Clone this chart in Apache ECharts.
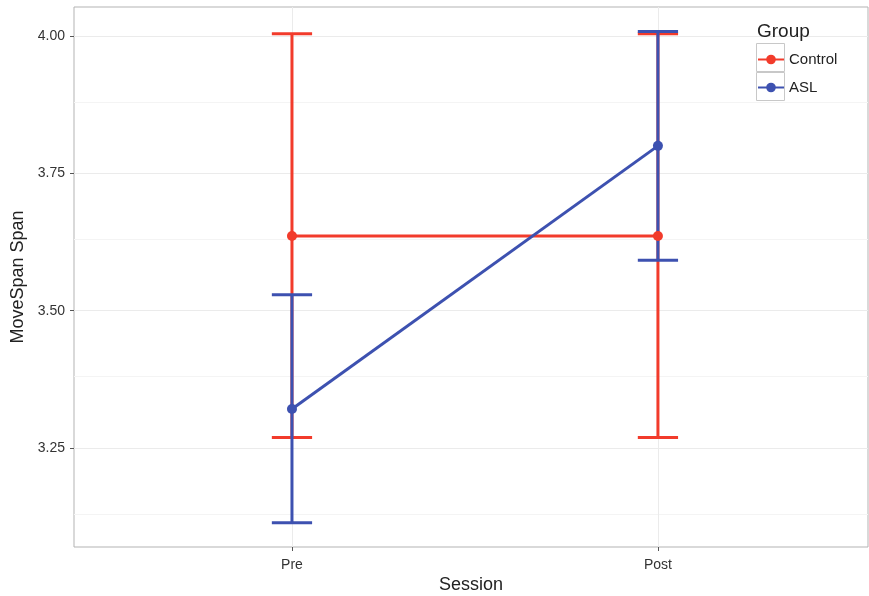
<!DOCTYPE html>
<html><head><meta charset="utf-8">
<script src="https://cdn.jsdelivr.net/npm/echarts@6/dist/echarts.min.js"></script>
<style>html,body{margin:0;padding:0;background:#fff}#c{width:869px;height:596px}</style>
</head><body><div id="c"></div>
<script>
const categories = ['Pre', 'Post'];
const groups = ['Control', 'ASL'];
const controlMean = [3.636, 3.636];
const controlLow = [3.269, 3.269];
const controlHigh = [4.004, 4.004];
const aslMean = [3.321, 3.800];
const aslLow = [3.114, 3.592];
const aslHigh = [3.529, 4.008];
const yTicks = [3.25, 3.50, 3.75, 4.00];
const yMinor = [3.125, 3.375, 3.625, 3.875];
const colors = ['#f23b2b', '#3d51b0'];

const chart = echarts.init(document.getElementById('c'), null, {renderer: 'canvas'});
const FONT = '"Liberation Sans", Arial, sans-serif';

function ebData(lo, hi) {
  return categories.map((c, i) => [i + 1, lo[i], hi[i]]);
}
function lineData(m) {
  return categories.map((c, i) => [i + 1, m[i]]);
}
function renderEB(params, api) {
  const x = api.value(0);
  const lo = api.coord([x, api.value(1)]);
  const hi = api.coord([x, api.value(2)]);
  const half = api.size([0.055, 0])[0];
  const st = {stroke: api.visual('color'), lineWidth: 3, fill: null};
  return {type: 'group', children: [
    {type: 'line', shape: {x1: lo[0], y1: lo[1], x2: hi[0], y2: hi[1]}, style: st},
    {type: 'line', shape: {x1: lo[0] - half, y1: lo[1], x2: lo[0] + half, y2: lo[1]}, style: st},
    {type: 'line', shape: {x1: hi[0] - half, y1: hi[1], x2: hi[0] + half, y2: hi[1]}, style: st}
  ]};
}

const gridMarks = [];
yMinor.forEach(v => gridMarks.push({yAxis: v, lineStyle: {color: '#f4f4f4', width: 1, type: 'solid'}}));
yTicks.forEach(v => gridMarks.push({yAxis: v, lineStyle: {color: '#ebebeb', width: 1, type: 'solid'}}));
categories.forEach((c, i) => gridMarks.push({xAxis: i + 1, lineStyle: {color: '#ebebeb', width: 1, type: 'solid'}}));

chart.setOption({
  animation: false,
  backgroundColor: '#fff',
  title: {text: 'Group', left: 752, top: 17, textStyle: {fontFamily: FONT, fontSize: 19, fontWeight: 'normal', color: '#222'}},
  grid: {left: 74, right: 1, top: 7, bottom: 49, show: true, borderColor: '#b3b3b3', borderWidth: 1,
    containLabel: false, outerBoundsMode: 'none'},
  xAxis: {
    type: 'value', min: 0.4044, max: 2.574,
    name: 'Session', nameLocation: 'middle', nameGap: 29, nameMoveOverlap: false,
    nameTextStyle: {fontFamily: FONT, fontSize: 18, color: '#222'},
    axisLine: {show: false},
    axisTick: {show: true, length: 4, lineStyle: {color: '#555'}, customValues: [1, 2]},
    axisLabel: {customValues: [1, 2], formatter: v => categories[Math.round(v) - 1] || '',
      fontFamily: FONT, fontSize: 14, color: '#333', margin: 11},
    splitLine: {show: false}
  },
  yAxis: {
    type: 'value', min: 3.0698, max: 4.0528,
    name: 'MoveSpan Span', nameLocation: 'middle', nameGap: 44,
    nameTextStyle: {fontFamily: FONT, fontSize: 18, color: '#222'},
    axisLine: {show: false},
    axisTick: {show: true, length: 4, lineStyle: {color: '#555'}, customValues: yTicks},
    axisLabel: {customValues: yTicks, formatter: v => v.toFixed(2),
      fontFamily: FONT, fontSize: 14, color: '#333', margin: 9},
    splitLine: {show: false}
  },
  legend: {
    orient: 'vertical', left: 757, top: 52, padding: 0, itemWidth: 26, itemHeight: 12, itemGap: 13,
    data: groups, textStyle: {fontFamily: FONT, fontSize: 15, color: '#222'},
    selectedMode: false
  },
  graphic: [
    {type: 'rect', left: 754, top: 41, z: 1, shape: {width: 28, height: 28}, style: {fill: 'none', stroke: '#c8c8c8', lineWidth: 1}},
    {type: 'rect', left: 754, top: 70, z: 1, shape: {width: 28, height: 28}, style: {fill: 'none', stroke: '#c8c8c8', lineWidth: 1}}
  ],
  series: [
    {type: 'line', data: [], silent: true, z: 0, markLine: {silent: true, z: 0, symbol: 'none', label: {show: false}, data: gridMarks}},
    {type: 'custom', name: 'Control-eb', renderItem: renderEB, data: ebData(controlLow, controlHigh), itemStyle: {color: colors[0]}, z: 2, encode: {x: 0, y: [1, 2]}},
    {type: 'custom', name: 'ASL-eb', renderItem: renderEB, data: ebData(aslLow, aslHigh), itemStyle: {color: colors[1]}, z: 3, encode: {x: 0, y: [1, 2]}},
    {type: 'line', name: 'Control', data: lineData(controlMean), color: colors[0], lineStyle: {width: 3, color: colors[0]},
      symbol: 'circle', symbolSize: 10, itemStyle: {color: colors[0]}, z: 4},
    {type: 'line', name: 'ASL', data: lineData(aslMean), color: colors[1], lineStyle: {width: 3, color: colors[1]},
      symbol: 'circle', symbolSize: 10, itemStyle: {color: colors[1]}, z: 5}
  ]
});
</script></body></html>
